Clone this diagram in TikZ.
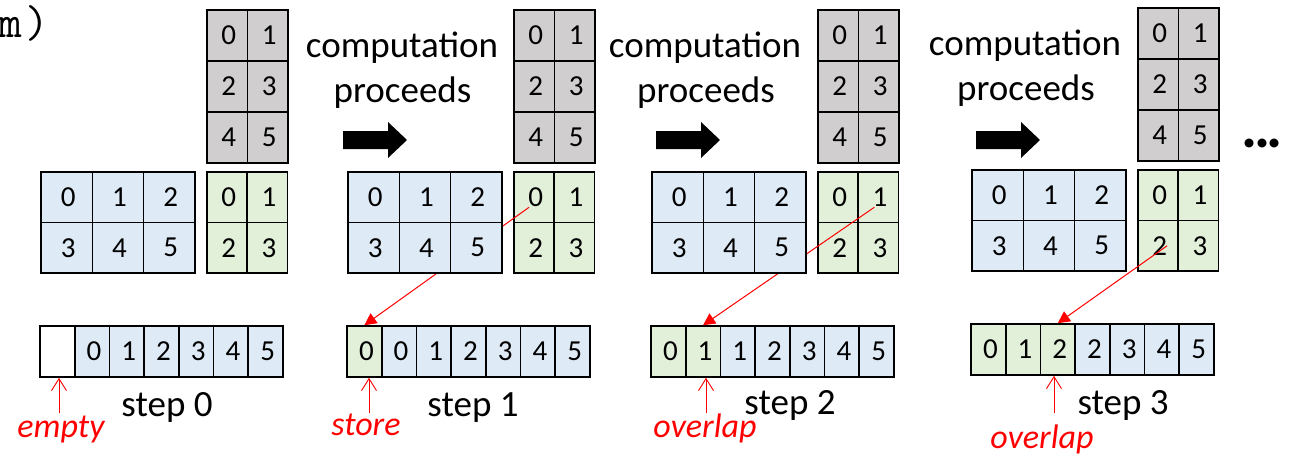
\documentclass[tikz,border=0pt]{standalone}
\usepackage{fontspec}
\setmainfont{Carlito}
\usetikzlibrary{arrows.meta,calc}

\definecolor{cellblue}{HTML}{DEEBF7}
\definecolor{cellgreen}{HTML}{E2F0D9}
\definecolor{cellgray}{HTML}{D0CECE}
\definecolor{notered}{HTML}{FF0000}

\tikzset{
  cellbox/.style={draw=black, line width=1.6pt, inner sep=0pt,
    font=\fontsize{29}{29}\selectfont},
  graycell/.style={cellbox, fill=cellgray, minimum width=40.5pt, minimum height=51pt},
  greencell/.style={cellbox, fill=cellgreen, minimum width=40.25pt, minimum height=50.5pt},
  bluecell/.style={cellbox, fill=cellblue, minimum width=51.33pt, minimum height=50.5pt},
  stripcell/.style={cellbox, minimum width=34.71pt, minimum height=51pt},
  steplabel/.style={inner sep=0pt, anchor=base, font=\fontsize{37}{37}\selectfont},
  headtext/.style={inner sep=0pt, anchor=base, font=\fontsize{37}{37}\selectfont},
  notelabel/.style={inner sep=0pt, anchor=base, text=notered,
    font=\fontsize{34}{34}\selectfont\itshape},
  flowline/.style={draw=notered, line width=1pt,
    -{Triangle[width=12pt,length=12pt]}},
  pointer/.style={draw=notered, line width=0.9pt,
    -{Straight Barb[length=12pt,width=15pt]}},
  bigarrow/.style={fill=black},
}

% weight matrix, output tile and the storage strip of one step
% #1 step index, #2 left edge of the input tile, #3 vertical offset
\newcommand\tilesandstrip[3]{%
  \foreach \r in {0,1,2}{\foreach \c in {0,1}{
    \pgfmathtruncatemacro\nv{2*\r+\c}
    \node[graycell] (gy#1\r\c) at (#2+166+20.25+\c*40.5, #3+10+25.5+\r*51) {\kern3pt\nv};
  }}
  \foreach \r in {0,1}{\foreach \c in {0,1}{
    \pgfmathtruncatemacro\nv{2*\r+\c}
    \node[greencell] (gn#1\r\c) at (#2+166+20.12+\c*40.25, #3+172+25.25+\r*50.5) {\kern3pt\nv};
  }}
  \foreach \k in {0,...,6}{
    \pgfmathsetmacro\sx{#2-1+17.36+\k*34.71}
    \ifnum\k<#1\relax
      \node[stripcell, fill=cellgreen] (s#1\k) at (\sx, #3+351.5) {\kern4pt\k};
    \else\ifnum\k=0\relax
      \node[stripcell, fill=white] (s#1\k) at (\sx, #3+351.5) {};
    \else
      \pgfmathtruncatemacro\lab{\k-1}
      \node[stripcell, fill=cellblue] (s#1\k) at (\sx, #3+351.5) {\kern4pt\lab};
    \fi\fi
  }
}

% input tile, drawn last so that it covers the data-flow lines
\newcommand\inputtile[3]{%
  \foreach \r in {0,1}{\foreach \c in {0,1,2}{
    \pgfmathtruncatemacro\nv{3*\r+\c}
    \node[bluecell] (bl#1\r\c) at (#2+25.67+\c*51.33, #3+172+25.25+\r*50.5) {\kern3pt\nv};
  }}
}

% thick block arrow starting at x = #1
\newcommand\blockarrow[1]{%
  \fill[bigarrow] (#1,131) -- (#1+45,131) -- (#1+45,122) -- (#1+64,140)
    -- (#1+45,158) -- (#1+45,149) -- (#1,149) -- cycle;
}

\begin{document}
\begin{tikzpicture}[x=1pt,y=-1pt]
\useasboundingbox (0,0) rectangle (1291,455);

\node[inner sep=0pt, anchor=base west, font=\ttfamily\fontsize{46}{46}\selectfont]
  (tag) at (-2,37) {m\kern4pt)};

\tilesandstrip{0}{41}{0}
\tilesandstrip{1}{348}{0}
\tilesandstrip{2}{652}{0}
\tilesandstrip{3}{972}{-2}

% data flow from the output tile into the strip
\draw[flowline] ($(gn100.center)+(-5,10)$) -- (s10.north);
\draw[flowline] ($(gn201.center)+(-4,10)$) -- (s21.north);
\draw[flowline] ($(gn310.center)+(9,0)$) -- (s32.north);

\inputtile{0}{41}{0}
\inputtile{1}{348}{0}
\inputtile{2}{652}{0}
\inputtile{3}{972}{-2}

% headings and block arrows between the steps
\node[headtext] (c1) at (402,57) {computation};
\node[headtext] (p1) at (402.5,102) {proceeds};
\node[headtext] (c2) at (705,57) {computation};
\node[headtext] (p2) at (706,102) {proceeds};
\node[headtext] (c3) at (1025,55) {computation};
\node[headtext] (p3) at (1026,100) {proceeds};
\blockarrow{343}
\blockarrow{656}
\blockarrow{976}

\node[inner sep=0pt, font=\fontsize{60}{60}\selectfont\bfseries]
  (more) at (1262,143) {.\kern-3.5pt.\kern-3.5pt.};

% step captions
\node[steplabel] (st0) at (167,416) {step 0};
\node[steplabel] (st1) at (473,416) {step 1};
\node[steplabel] (st2) at (790,414) {step 2};
\node[steplabel] (st3) at (1123,414) {step 3};

% notes under the strip
\node[notelabel] (n0) at (61,437) {empty};
\node[notelabel] (n1) at (366,435) {store};
\node[notelabel] (n2) at (705,437) {overlap};
\node[notelabel] (n3) at (1042,448) {overlap};

\coordinate (q0) at (59,413);
\coordinate (q1) at (369,413);
\coordinate (q2) at (706,413);
\coordinate (q3) at (1054,413);
\draw[pointer] (q0) -- (q0 |- s01.south);
\draw[pointer] (q1) -- (q1 |- s10.south);
\draw[pointer] (q2) -- (q2 |- s21.south);
\draw[pointer] (q3) -- (q3 |- s32.south);
\end{tikzpicture}
\end{document}
